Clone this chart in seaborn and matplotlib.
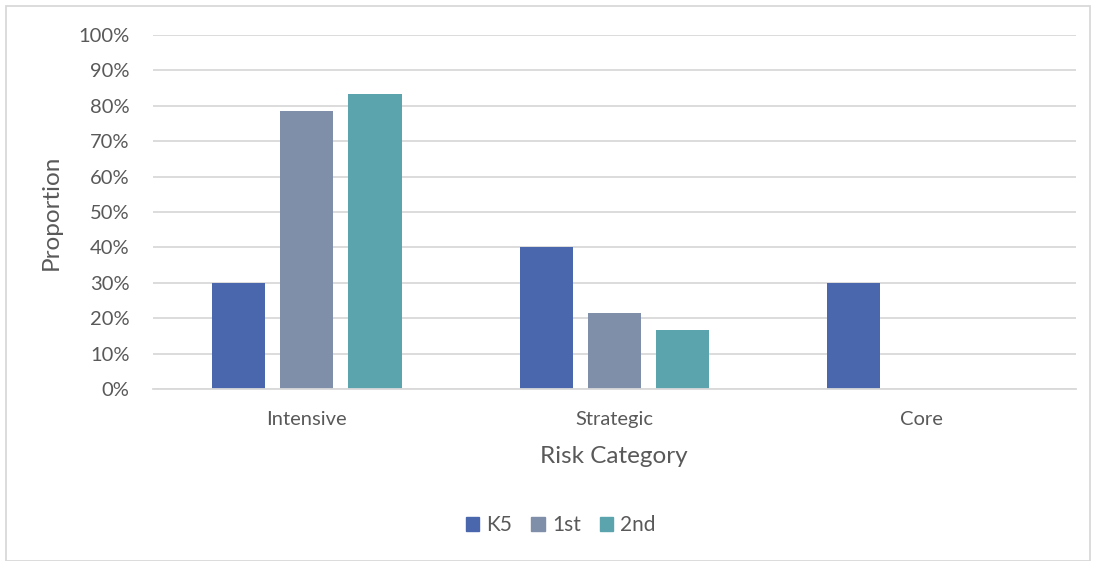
import matplotlib
matplotlib.use("Agg")
import matplotlib.pyplot as plt
import matplotlib.patches as mpatches
import seaborn as sns
import pandas as pd

categories = ["Intensive", "Strategic", "Core"]
series = ["K5", "1st", "2nd"]
k5_values = [30.0, 40.0, 30.0]
first_values = [78.6, 21.4, 0.0]
second_values = [83.3, 16.7, 0.0]
colors = ["#4A67AE", "#7F8FA9", "#5BA4AE"]
y_ticks = list(range(0, 101, 10))

rows = []
for name, vals in zip(series, [k5_values, first_values, second_values]):
    for cat, v in zip(categories, vals):
        rows.append({"Risk Category": cat, "Grade": name, "Proportion": v})
df = pd.DataFrame(rows)

sns.set_theme(style="white")
plt.rcParams["font.family"] = ["Lato", "DejaVu Sans"]

fig = plt.figure(figsize=(10.93, 5.61), dpi=100)
ax = fig.add_axes([0.140, 0.3066, 0.844, 0.631])

sns.barplot(data=df, x="Risk Category", y="Proportion", hue="Grade",
            palette=colors, width=0.665, gap=0.22, ax=ax, legend=False,
            saturation=1, edgecolor="none")

ax.set_ylim(0, 100)
ax.set_yticks(y_ticks)
ax.set_yticklabels([f"{t}%" for t in y_ticks])
ax.yaxis.grid(True, color="#D9D9D9", linewidth=1.3)
ax.set_axisbelow(True)
for s in ["left", "right", "top"]:
    ax.spines[s].set_visible(False)
ax.spines["bottom"].set_color("#D9D9D9")
ax.spines["bottom"].set_linewidth(1.3)
ax.tick_params(axis="both", length=0, labelsize=14.5, colors="#595959")
ax.tick_params(axis="x", pad=16)
ax.tick_params(axis="y", pad=17)
ax.set_xlabel("Risk Category", fontsize=17.5, color="#595959", labelpad=13)
ax.set_ylabel("Proportion", fontsize=17.5, color="#595959", labelpad=12)

handles = [mpatches.Patch(color=c, label=s) for c, s in zip(colors, series)]
fig.legend(handles=handles, loc="center", bbox_to_anchor=(0.513, 0.064),
           ncol=3, frameon=False, fontsize=15, handlelength=0.65,
           handleheight=0.65, handletextpad=0.35, columnspacing=0.9,
           labelcolor="#595959")

fig.patches.append(mpatches.Rectangle((0.0055, 0.0), 0.992, 0.99,
                                      transform=fig.transFigure, fill=False,
                                      edgecolor="#D9D9D9", linewidth=1.3))

fig.savefig("out.png", dpi=100)
